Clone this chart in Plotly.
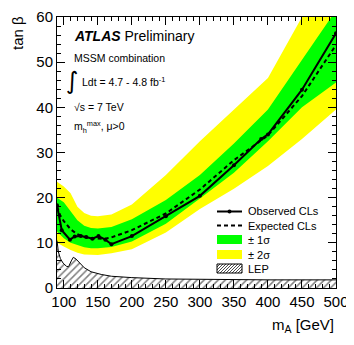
import plotly.graph_objects as go

# observed / expected limits (tan beta vs m_A)
obs_mA = [90, 97, 109, 116, 125, 133, 142, 151, 161, 170, 200, 250, 300, 350, 390, 400, 450, 500]
obs_tb = [18.3, 12.8, 10.7, 11.4, 11.5, 11.3, 10.9, 11.5, 10.7, 9.7, 11.5, 15.9, 20.4, 27.2, 33.0, 34.0, 43.9, 56.4]

exp_mA = [90, 95, 100, 110, 120, 130, 140, 150, 160, 170, 200, 250, 300, 350, 400, 450, 500]
exp_tb = [18.0, 16.0, 14.8, 13.0, 11.9, 11.3, 11.0, 10.9, 10.9, 11.2, 12.8, 16.5, 21.8, 28.3, 33.8, 42.5, 53.8]

# bands
band_mA = [90, 100, 110, 120, 130, 140, 150, 170, 200, 250, 300, 350, 400, 450, 500]
yel_hi = [23.5, 22.5, 21.0, 18.0, 16.6, 16.0, 15.9, 16.3, 18.5, 25.0, 32.5, 39.5, 46.5, 60.0, 74.0]
grn_hi = [20.0, 19.0, 17.0, 15.0, 13.8, 13.3, 13.2, 13.5, 15.2, 19.5, 25.0, 32.0, 39.5, 50.5, 61.5]
grn_lo = [12.5, 11.0, 10.0, 9.5, 9.0, 8.8, 8.8, 9.1, 10.3, 14.2, 19.8, 25.5, 32.5, 40.0, 45.5]
yel_lo = [10.0, 9.2, 8.4, 7.8, 7.4, 7.3, 7.3, 7.7, 8.6, 12.3, 17.5, 22.0, 27.0, 33.0, 39.5]

# LEP excluded region
lep_mA = [90, 92, 95, 99, 104, 107, 111, 114, 118, 124, 130, 140, 155, 170, 200, 250, 300, 400, 500]
lep_tb = [10.5, 8.0, 6.5, 5.5, 4.8, 4.7, 6.0, 6.8, 6.4, 5.4, 4.5, 3.6, 3.0, 2.6, 2.3, 2.0, 1.9, 1.8, 1.8]

legend_labels = ["Observed CLs", "Expected CLs", "± 1σ", "± 2σ", "LEP"]

# page body adds an 8px margin, so the figure is a bit smaller than the window
OFF = 8
W, H = 354 - OFF, 345 - OFF
L, R, T, B = 57 - OFF, 18, 17 - OFF, 57
pw, ph = W - L - R, H - T - B


def px(x):
    # window pixel -> paper fraction
    return (x - OFF - L) / pw


def py(y):
    return (H + OFF - B - y) / ph


font = "Liberation Sans, Arial, sans-serif"

fig = go.Figure()

fig.add_trace(go.Scatter(x=band_mA + band_mA[::-1], y=yel_hi + yel_lo[::-1], fill="toself",
                         fillcolor="#ffff00", line=dict(width=0), mode="lines"))
fig.add_trace(go.Scatter(x=band_mA + band_mA[::-1], y=grn_hi + grn_lo[::-1], fill="toself",
                         fillcolor="#00ff00", line=dict(width=0), mode="lines"))
fig.add_trace(go.Scatter(x=lep_mA, y=lep_tb, fill="tozeroy", mode="lines",
                         line=dict(color="black", width=1),
                         fillcolor="white",
                         fillpattern=dict(shape="/", fgcolor="black", bgcolor="white", size=5, solidity=0.3)))
fig.add_trace(go.Scatter(x=exp_mA, y=exp_tb, mode="lines",
                         line=dict(color="black", width=2, dash="4px,3px")))
fig.add_trace(go.Scatter(x=obs_mA, y=obs_tb, mode="lines+markers",
                         line=dict(color="black", width=2), marker=dict(color="black", size=4)))

axis_common = dict(showgrid=False, zeroline=False, showline=True, linecolor="black", linewidth=1,
                   mirror="allticks", ticks="inside", tickcolor="black", ticklen=8, automargin=False,
                   tickfont=dict(family=font, size=15, color="black"))

fig.update_xaxes(range=[90, 500], tickmode="linear", tick0=100, dtick=50,
                 minor=dict(ticks="inside", ticklen=4, dtick=10, tickcolor="black"), **axis_common)
fig.update_yaxes(range=[0, 60], tickmode="linear", tick0=0, dtick=10,
                 minor=dict(ticks="inside", ticklen=4, dtick=2, tickcolor="black"), **axis_common)

ann = [
    dict(x=px(72), y=py(36), text="<b><i>ATLAS</i></b> Preliminary", size=14),
    dict(x=px(72), y=py(58), text="MSSM combination", size=10.5),
    dict(x=px(80), y=py(82), text="Ldt = 4.7 - 4.8 fb<sup>-1</sup>", size=10.5),
    dict(x=px(72), y=py(107), text="√s = 7 TeV", size=10.5),
    dict(x=px(72), y=py(127), text="m<sub>h</sub><sup>max</sup>, μ>0", size=10.5),
]
for a in ann:
    fig.add_annotation(x=a["x"], y=a["y"], xref="paper", yref="paper", text=a["text"],
                       showarrow=False, xanchor="left", yanchor="middle",
                       font=dict(family=font, size=a["size"], color="black"))
fig.add_annotation(x=px(72), y=py(81), xref="paper", yref="paper", text="∫", showarrow=False,
                   xanchor="center", yanchor="middle", font=dict(family="DejaVu Sans", size=24, color="black"))

# axis titles
fig.add_annotation(x=px(336), y=py(326), xref="paper", yref="paper", text="m<sub>A</sub> [GeV]",
                   showarrow=False, xanchor="right", yanchor="middle",
                   font=dict(family=font, size=15, color="black"))
fig.add_annotation(x=px(18), y=py(14), xref="paper", yref="paper", text="tan β", textangle=-90,
                   showarrow=False, xanchor="center", yanchor="top",
                   font=dict(family=font, size=15, color="black"))

# hand-made legend (ROOT-like compact spacing)
sx0, sx1 = 217, 242
rows = [211.5, 225.5, 239.5, 254.5, 268.5]
pp = dict(xref="paper", yref="paper")
shapes = []
shapes.append(dict(type="line", x0=px(sx0), x1=px(sx1), y0=py(rows[0]), y1=py(rows[0]),
                   line=dict(color="black", width=2), **pp))
shapes.append(dict(type="circle", x0=px(227.5), x1=px(231.5), y0=py(rows[0] - 2), y1=py(rows[0] + 2),
                   fillcolor="black", line=dict(width=0), **pp))
shapes.append(dict(type="line", x0=px(sx0), x1=px(sx1), y0=py(rows[1]), y1=py(rows[1]),
                   line=dict(color="black", width=2, dash="4px,3px"), **pp))
for r, col in ((rows[2], "#00ff00"), (rows[3], "#ffff00")):
    shapes.append(dict(type="rect", x0=px(sx0), x1=px(sx1), y0=py(r - 4.5), y1=py(r + 4.5),
                       fillcolor=col, line=dict(width=0), **pp))
r = rows[4]
top, bot = r - 4.5, r + 4.5
hh = bot - top
c = sx0 - hh
while c < sx1:
    xa, ya = c, bot
    xb, yb = c + hh, top
    if xa < sx0:
        ya = bot - (sx0 - xa)
        xa = sx0
    if xb > sx1:
        yb = top + (xb - sx1)
        xb = sx1
    shapes.append(dict(type="line", x0=px(xa), x1=px(xb), y0=py(ya), y1=py(yb),
                       line=dict(color="black", width=0.7), **pp))
    c += 3
shapes.append(dict(type="rect", x0=px(sx0), x1=px(sx1), y0=py(top), y1=py(bot),
                   line=dict(color="black", width=1), **pp))
for lab, r in zip(legend_labels, rows):
    fig.add_annotation(x=px(246), y=py(r), xref="paper", yref="paper", text=lab, showarrow=False,
                       xanchor="left", yanchor="middle", font=dict(family=font, size=11, color="black"))

fig.update_layout(
    width=W, height=H,
    margin=dict(l=L, r=R, t=T, b=B),
    plot_bgcolor="white", paper_bgcolor="white",
    showlegend=False,
    shapes=shapes,
)

fig.write_html("out.html")
